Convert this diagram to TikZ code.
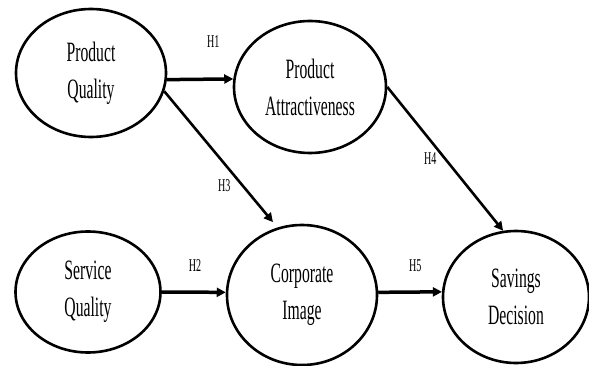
\documentclass[tikz,border=0pt]{standalone}
\usepackage{fontspec}
\setmainfont{Liberation Serif}[FakeStretch=0.56]
\usetikzlibrary{shapes.geometric,arrows.meta}
\tikzset{
  construct/.style={draw,ellipse,line width=2.6pt,inner sep=0pt,align=center,
    font=\fontsize{28}{37}\selectfont},
  hyp/.style={font=\fontsize{18}{20}\selectfont},
  >={Triangle[length=9pt,width=9pt]}
}
\begin{document}
\begin{tikzpicture}
    \def\x{1pt}
    \def\y{-1pt}
    \useasboundingbox (0,0) rectangle (589*\x, 366*\y);
    \node[construct,minimum width=150pt,minimum height=128pt] (PQ) at (91*\x, 73*\y) {Product\\Quality};
    \node[construct,minimum width=152pt,minimum height=132pt] (PA) at (310*\x, 87*\y) {Product\\Attractiveness};
    \node[construct,minimum width=145pt,minimum height=121pt] (SQ) at (88*\x, 292*\y) {Service\\Quality};
    \node[construct,minimum width=150pt,minimum height=140pt] (CI) at (302*\x, 295*\y) {Corporate\\Image};
    \node[construct,minimum width=146pt,minimum height=132pt] (SD) at (516*\x, 297*\y) {Savings\\Decision};
    \path (PQ.-5.4) edge [->,line width=3.5pt] node [hyp,pos=0.7,yshift=38pt] {H1} (PA.174.7);
    \path (SQ.east) edge [->,line width=3.5pt] node [hyp,pos=0.52,yshift=27pt] {H2} (CI.178);
    \path (PQ.-14.9) edge [->,line width=2.6pt,shorten >=7pt] node [hyp,pos=0.69,xshift=-18pt] {H3} (CI.110);
    \path (PA.east) edge [->,line width=2.6pt] node [hyp,pos=0.5,xshift=-15pt] {H4} (SD.101.5);
    \path (CI.2) edge [->,line width=3.5pt] node [hyp,pos=0.58,yshift=26pt] {H5} (SD.176.5);
  \end{tikzpicture}
\end{document}
